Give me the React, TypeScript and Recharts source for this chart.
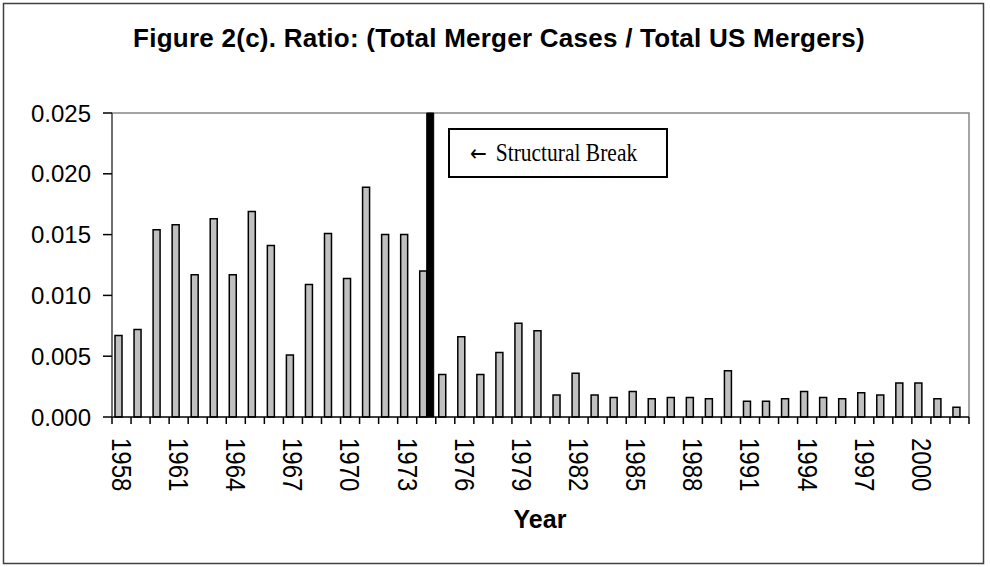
import React from 'react';
import { BarChart, Bar, XAxis, YAxis } from 'recharts';

// year categories, 1958-2002
const years = [
  1958, 1959, 1960, 1961, 1962, 1963, 1964, 1965, 1966, 1967,
  1968, 1969, 1970, 1971, 1972, 1973, 1974, 1975, 1976, 1977,
  1978, 1979, 1980, 1981, 1982, 1983, 1984, 1985, 1986, 1987,
  1988, 1989, 1990, 1991, 1992, 1993, 1994, 1995, 1996, 1997,
  1998, 1999, 2000, 2001, 2002,
];

// total merger cases / total US mergers
const ratio = [
  0.0067, 0.0072, 0.0154, 0.0158, 0.0117, 0.0163, 0.0117, 0.0169, 0.0141, 0.0051,
  0.0109, 0.0151, 0.0114, 0.0189, 0.0150, 0.0150, 0.0120, 0.0035, 0.0066, 0.0035,
  0.0053, 0.0077, 0.0071, 0.0018, 0.0036, 0.0018, 0.0016, 0.0021, 0.0015, 0.0016,
  0.0016, 0.0015, 0.0038, 0.0013, 0.0013, 0.0015, 0.0021, 0.0016, 0.0015, 0.0020,
  0.0018, 0.0028, 0.0028, 0.0015, 0.0008,
];

const breakYear = 1974;
const breakValue = 0.025;

const yTicks = [0, 0.005, 0.01, 0.015, 0.02, 0.025];
const labelYears = [1958, 1961, 1964, 1967, 1970, 1973, 1976, 1979, 1982, 1985, 1988, 1991, 1994, 1997, 2000];

const data = years.map((year, i) => ({
  year,
  ratio: ratio[i],
  brk: year === breakYear ? breakValue : null,
}));

const W = 990;
const H = 567;
const PLOT_L = 112;
const PLOT_R = 969;
const PLOT_T = 113;
const PLOT_B = 417;
const STEP = (PLOT_R - PLOT_L) / years.length;
const SANS = '"Liberation Sans", Arial, sans-serif';
const SERIF = '"Liberation Serif", "Times New Roman", serif';

function YearTick(props: any) {
  const { x, payload, index } = props;
  const showLabel = labelYears.includes(payload.value);
  return (
    <g>
      <line x1={x - STEP / 2} x2={x - STEP / 2} y1={PLOT_B} y2={PLOT_B + 7} stroke="#000" strokeWidth={1.5} />
      {index === years.length - 1 && (
        <line x1={x + STEP / 2} x2={x + STEP / 2} y1={PLOT_B} y2={PLOT_B + 7} stroke="#000" strokeWidth={1.5} />
      )}
      {showLabel && (
        <text
          transform={`translate(${x},${PLOT_B + 21}) rotate(90) scale(1,1.15)`}
          textAnchor="start"
          dominantBaseline="central"
          fontSize={24}
          fontFamily={SANS}
          fill="#000"
        >
          {payload.value}
        </text>
      )}
    </g>
  );
}

export default function App() {
  return (
    <div style={{ position: 'absolute', left: 0, top: 0, width: W, height: H, background: '#fff' }}>
      <svg width={W} height={H} style={{ position: 'absolute', left: 0, top: 0 }}>
        <rect x={3.5} y={3.5} width={980} height={560} fill="#fff" stroke="#404040" strokeWidth={1.5} />
        <polyline
          points={`${PLOT_L},${PLOT_T} ${PLOT_R},${PLOT_T} ${PLOT_R},${PLOT_B}`}
          fill="none"
          stroke="#888"
          strokeWidth={1.5}
        />
      </svg>
      <div style={{ position: 'absolute', left: 0, top: 0 }}>
        <BarChart
          width={W}
          height={H}
          data={data}
          margin={{ top: PLOT_T, right: W - PLOT_R, bottom: H - PLOT_B - 90, left: 0 }}
          barGap={0}
        >
          <XAxis
            dataKey="year"
            interval={0}
            height={90}
            tickLine={false}
            tick={<YearTick />}
            axisLine={{ stroke: '#000', strokeWidth: 1.5 }}
          />
          <YAxis
            width={PLOT_L}
            domain={[0, 0.025]}
            ticks={yTicks}
            tickFormatter={(v: number) => v.toFixed(3)}
            tickSize={9}
            tickMargin={12}
            tick={{ fontSize: 24, fontFamily: SANS, fill: '#000' }}
            tickLine={{ stroke: '#000', strokeWidth: 1.5 }}
            axisLine={{ stroke: '#404040', strokeWidth: 1.5 }}
          />
          <Bar dataKey="ratio" fill="#C0C0C0" stroke="#000" strokeWidth={1.5} barSize={7} isAnimationActive={false} />
          <Bar dataKey="brk" fill="#000" stroke="#000" strokeWidth={1} barSize={7} isAnimationActive={false} />
        </BarChart>
      </div>
      <svg width={W} height={H} style={{ position: 'absolute', left: 0, top: 0, pointerEvents: 'none' }}>
        <text x={499} y={47} textAnchor="middle" fontSize={26} fontWeight="bold" fontFamily={SANS} letterSpacing={0.25} fill="#000">
          Figure 2(c). Ratio: (Total Merger Cases / Total US Mergers)
        </text>
        <text x={540} y={528} textAnchor="middle" fontSize={25} fontWeight="bold" fontFamily={SANS} fill="#000">
          Year
        </text>
        <rect x={449} y={129} width={218} height={48} fill="#fff" stroke="#000" strokeWidth={2} />
        <text transform="translate(470,161) scale(1,1.15)" fontSize={21.5} fontFamily={SERIF} fill="#000">
          <tspan fontFamily='"DejaVu Sans", sans-serif' fontSize={20}>←</tspan>
          <tspan dx={9}>Structural Break</tspan>
        </text>
      </svg>
    </div>
  );
}
